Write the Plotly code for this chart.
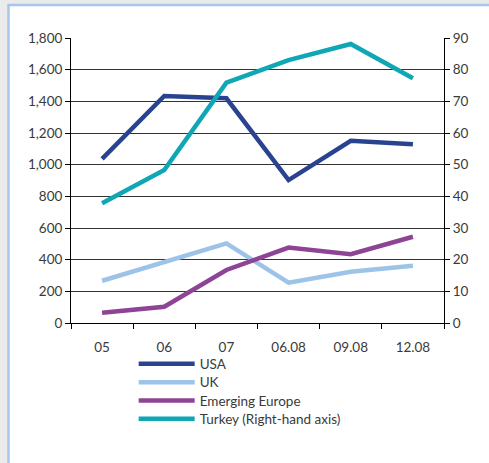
import plotly.graph_objects as go

# Periods on the category axis
periods = ["05", "06", "07", "06.08", "09.08", "12.08"]

# Left-hand axis series
usa = [1037, 1434, 1419, 903, 1151, 1129]
uk = [267, 387, 503, 255, 324, 362]
emerging_europe = [65, 103, 335, 476, 434, 545]

# Right-hand axis series
turkey = [37.8, 48.3, 75.9, 83.0, 88.1, 77.3]

left_ticks = list(range(0, 1801, 200))
right_ticks = list(range(0, 91, 10))

FONT = "Lato"
TEXT = "#3a3a3a"

fig = go.Figure()

series = [
    ("USA", usa, "#2a4391", "y"),
    ("UK", uk, "#9ec3e8", "y"),
    ("Emerging Europe", emerging_europe, "#8e4494", "y"),
    ("Turkey (Right-hand axis)", turkey, "#0fa6b5", "y2"),
]
legend_ids = ["legend", "legend2", "legend3", "legend4"]
for (name, vals, color, axis), lid in zip(series, legend_ids):
    fig.add_trace(go.Scatter(
        x=periods, y=vals, name=name, mode="lines", yaxis=axis,
        line=dict(color=color, width=4.5), legend=lid,
    ))

# One single-entry legend per series, stacked tightly under the axis
legend_rows = [-0.144, -0.2085, -0.273, -0.337]
legend_style = dict(
    orientation="v", x=0.168, xanchor="left", yanchor="middle",
    bgcolor="rgba(0,0,0,0)", font=dict(size=13.5, color=TEXT),
    itemwidth=56,
)
legends = {lid: dict(legend_style, y=row) for lid, row in zip(legend_ids, legend_rows)}

fig.update_layout(
    width=489, height=463,
    margin=dict(l=71, r=45, t=38, b=140),
    paper_bgcolor="#ebebeb",
    plot_bgcolor="rgba(0,0,0,0)",
    font=dict(family=FONT, size=13.5, color=TEXT),
    showlegend=True,
    xaxis=dict(
        type="category", range=[-0.5, 5.5],
        showline=True, linecolor="#000", linewidth=1,
        ticks="outside", ticklen=5, tickcolor="#000", tickson="boundaries",
        showgrid=False, ticklabelstandoff=12, zeroline=False,
    ),
    yaxis=dict(
        range=[0, 1800], tickvals=left_ticks, tickformat=",",
        showline=True, linecolor="#000", linewidth=1,
        ticks="outside", ticklen=5, tickcolor="#000",
        showgrid=True, gridcolor="#333", gridwidth=1, zeroline=False,
    ),
    yaxis2=dict(
        range=[0, 90], tickvals=right_ticks, overlaying="y", side="right",
        showline=True, linecolor="#000", linewidth=1,
        ticks="outside", ticklen=5, tickcolor="#000",
        showgrid=False, zeroline=False,
    ),
    shapes=[
        # white panel with a light blue frame behind the chart
        dict(type="rect", xref="paper", yref="paper",
             x0=-0.1676, x1=1.3, y0=-0.7, y1=1.1158,
             fillcolor="white", line=dict(color="#a7c6ea", width=2.5),
             layer="below"),
    ],
    **legends,
)

fig.write_html("out.html")
